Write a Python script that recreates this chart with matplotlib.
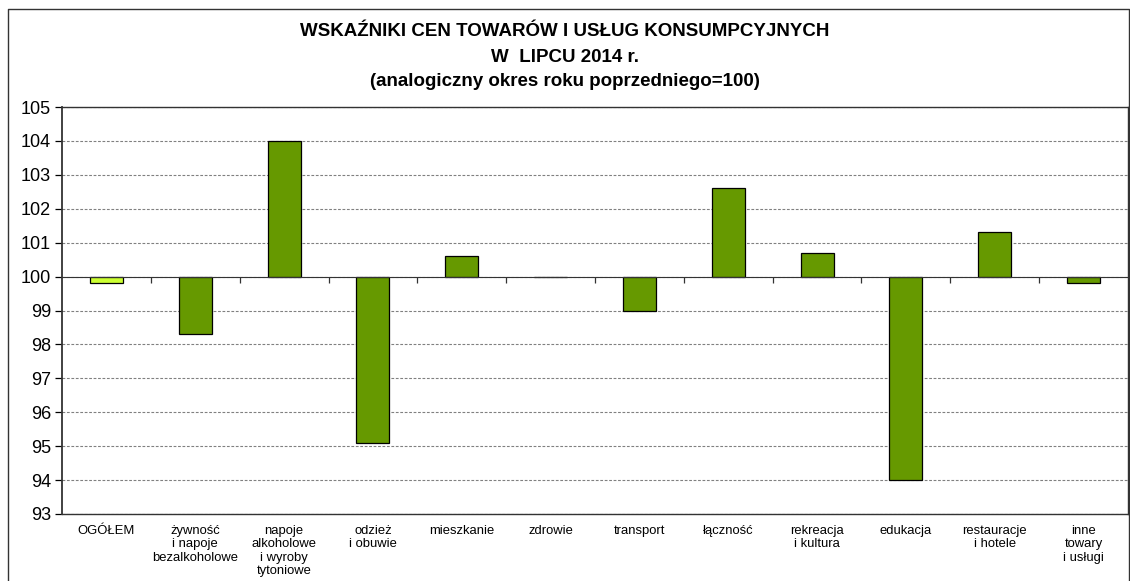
import matplotlib
matplotlib.use('Agg')
from matplotlib import pyplot
from matplotlib.lines import Line2D

pyplot.rcParams['font.family'] = ['Liberation Sans', 'DejaVu Sans']

# Data
categories = ['OGÓŁEM', 'żywność\ni napoje\nbezalkoholowe',
              'napoje\nalkoholowe\ni wyroby\ntytoniowe', 'odzież\ni obuwie',
              'mieszkanie', 'zdrowie', 'transport', 'łączność',
              'rekreacja\ni kultura', 'edukacja', 'restauracje\ni hotele',
              'inne\ntowary\ni usługi']
values = [99.8, 98.3, 104.0, 95.1, 100.6, 100.0, 99.0, 102.6, 100.7, 94.0,
          101.3, 99.8]
y_ticks = list(range(93, 106))
title_lines = ['WSKAŹNIKI CEN TOWARÓW I USŁUG KONSUMPCYJNYCH',
               'W  LIPCU 2014 r.',
               '(analogiczny okres roku poprzedniego=100)']
BASE = 100


def _plot():
    '''Draw the price index bar chart.'''
    fig = pyplot.figure(figsize=(11.3, 5.81), dpi=100)
    ax = fig.add_axes([62 / 1130, 1 - 514 / 581, 1066 / 1130, 407 / 581])

    xs = list(range(len(categories)))
    colors = ['#ccff33'] + ['#669900'] * (len(categories) - 1)
    ax.bar(xs, [v - BASE for v in values], bottom=BASE, width=0.37,
           color=colors, edgecolor='black', linewidth=0.9, zorder=3)

    ax.set_ylim(y_ticks[0], y_ticks[-1])
    ax.set_xlim(-0.5, len(categories) - 0.5)
    ax.set_yticks(y_ticks)
    ax.tick_params(axis='y', labelsize=13, length=5, width=0.9,
                   direction='out', pad=3)
    ax.set_xticks(xs)
    ax.set_xticklabels(categories, fontsize=9.4, linespacing=1.15)
    ax.tick_params(axis='x', length=0, pad=8)
    ax.yaxis.grid(True, color='#808080', linestyle=(0, (2.5, 1.5)),
                  linewidth=0.8, zorder=0)
    for spine in ax.spines.values():
        spine.set_color('#333333')
        spine.set_linewidth(1.0)
    ax.spines['left'].set_linewidth(1.3)

    # category axis crossing at 100 with tick marks between categories
    ax2 = ax.twiny()
    ax2.set_xlim(ax.get_xlim())
    ax2.spines['bottom'].set_position(('data', BASE))
    for name in ['top', 'left', 'right']:
        ax2.spines[name].set_visible(False)
    ax2.spines['bottom'].set_color('#333333')
    ax2.spines['bottom'].set_zorder(4)
    ax2.xaxis.set_ticks_position('bottom')
    ax2.set_xticks([x + 0.5 for x in xs[:-1]])
    ax2.set_xticklabels([])
    ax2.tick_params(axis='x', length=4, width=0.9, direction='out',
                    color='#333333')

    for i, line in enumerate(title_lines):
        fig.text(0.5, 1 - (32 + 25 * i) / 581, line, ha='center',
                 va='center', fontsize=13.5, fontweight='bold')

    # outer chart frame
    frame = [[8 / 1130, 8 / 1130, 1128.5 / 1130, 1128.5 / 1130],
             [-0.01, 1 - 9 / 581, 1 - 9 / 581, -0.01]]
    fig.add_artist(Line2D(frame[0], frame[1], color='#333333',
                          linewidth=1.0, transform=fig.transFigure))

    fig.savefig('out.png', dpi=100)


def main():
    '''main method.'''
    _plot()


if __name__ == '__main__':
    main()
